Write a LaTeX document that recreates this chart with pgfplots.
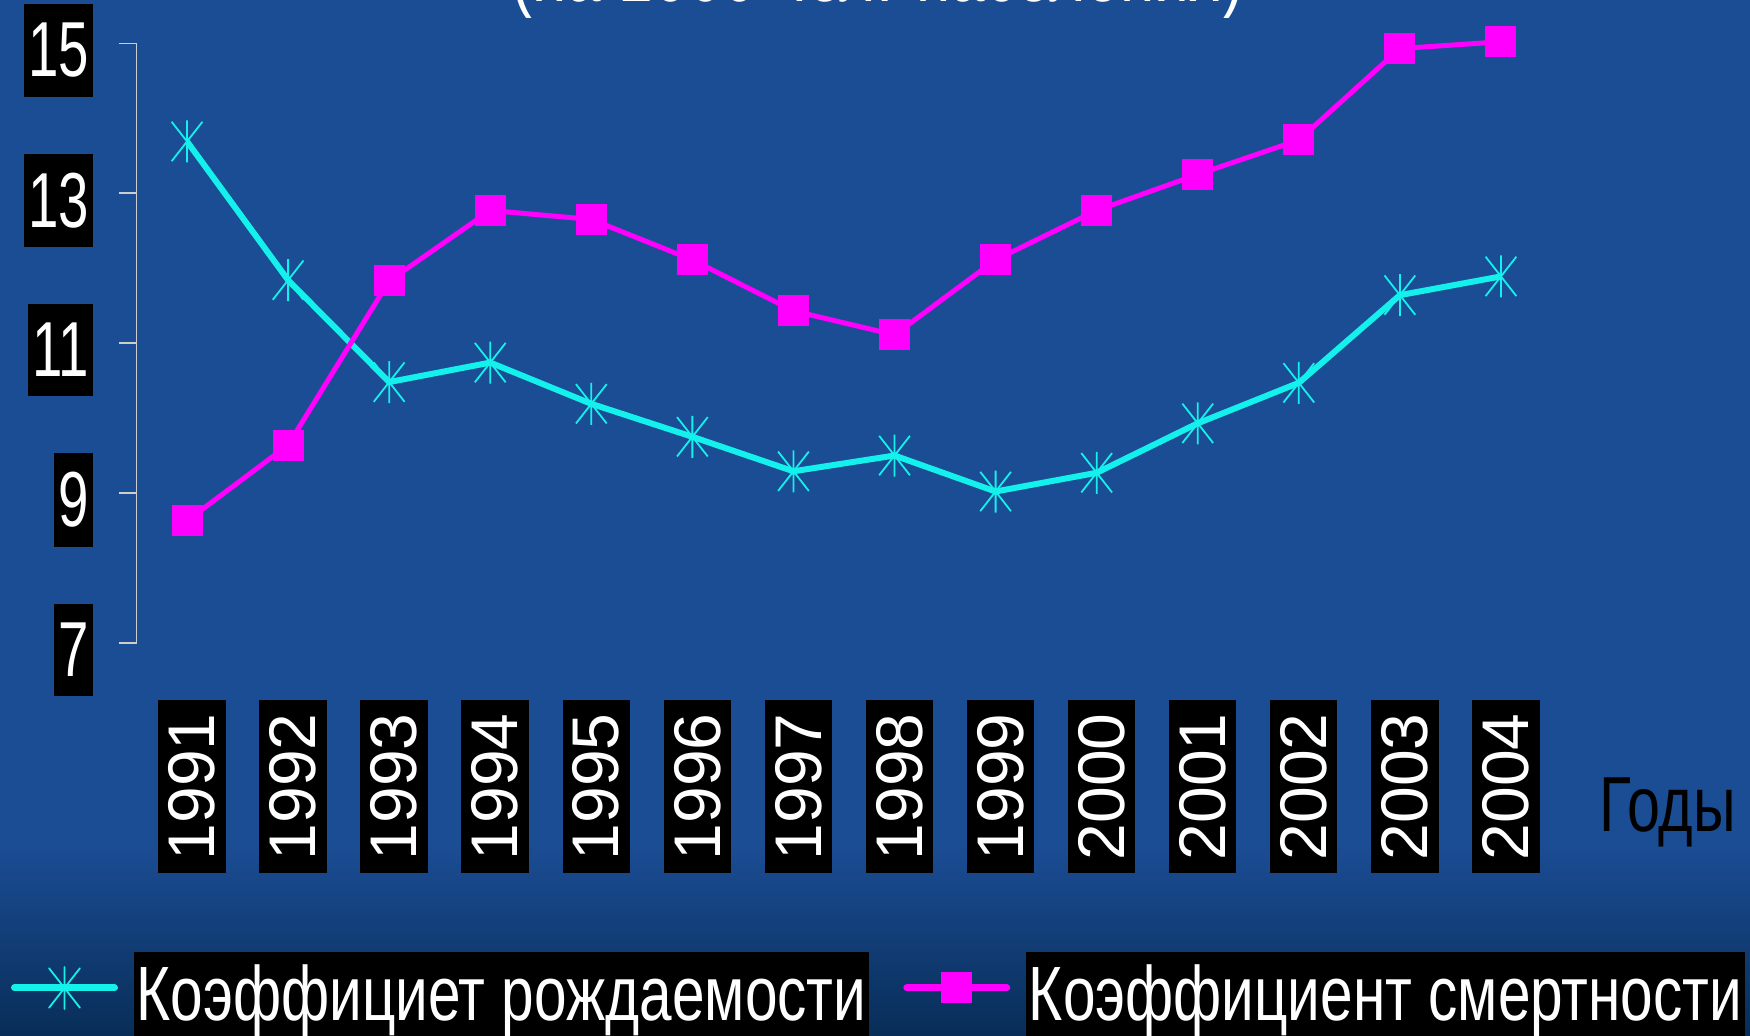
\documentclass[border=0pt]{standalone}
\usepackage{pgfplots}
\pgfplotsset{compat=1.18}
\usepackage{fontspec}
\setmainfont{Liberation Sans}
\newfontfamily\narrowfont[FakeStretch=0.76]{Liberation Sans}
\newfontfamily\tickfont[FakeStretch=0.7]{Liberation Sans}
\definecolor{bgblue}{RGB}{27,77,148}
\definecolor{bgdark}{RGB}{8,45,88}
\definecolor{cyanline}{RGB}{20,240,235}
\definecolor{magline}{RGB}{255,0,255}
\definecolor{axgray}{RGB}{205,205,205}
\pgfdeclareplotmark{ast6}{%
  \pgfpathmoveto{\pgfpoint{0pt}{-0.84\pgfplotmarksize}}%
  \pgfpathlineto{\pgfpoint{0pt}{0.84\pgfplotmarksize}}%
  \pgfpathmoveto{\pgfpointpolar{-128}{\pgfplotmarksize}}%
  \pgfpathlineto{\pgfpointpolar{52}{\pgfplotmarksize}}%
  \pgfpathmoveto{\pgfpointpolar{-52}{\pgfplotmarksize}}%
  \pgfpathlineto{\pgfpointpolar{128}{\pgfplotmarksize}}%
  \pgfusepathqstroke}
\newcommand\lgbox[1]{{\setlength{\fboxsep}{1.5pt}\colorbox{black}{\rule[-9pt]{0pt}{42pt}\narrowfont\fontsize{38.5}{40}\selectfont\textcolor{white}{#1}}}}
\begin{document}
\begin{tikzpicture}
\useasboundingbox (0,0) rectangle (875pt,517.5pt);
\fill[bgblue] (0,0) rectangle (875pt,517.5pt);
\shade[top color=bgblue, bottom color=bgdark] (0,0) rectangle (875pt,95pt);
\node[anchor=base, text=white, font=\narrowfont\fontsize{41}{43}\selectfont] at (439pt,516.5pt) {(на 1000 чел. населения)};
\node[anchor=base west, text=black, font=\narrowfont\fontsize{39}{41}\selectfont] at (796pt,102pt) {Годы};
\begin{axis}[
  at={(68.25pt,196.05pt)}, anchor=south west,
  scale only axis, width=707.5pt, height=299.8pt,
  xmin=1990.5, xmax=2004.5, ymin=7, ymax=15,
  clip=false,
  axis lines*=left,
  axis line style={-},
  x axis line style={draw=none},
  y axis line style={draw=axgray, line width=0.8pt},
  tick align=outside,
  major tick length=9pt,
  xtick={1991,...,2004},
  xticklabels={1991,1992,1993,1994,1995,1996,1997,1998,1999,2000,2001,2002,2003,2004},
  xtick style={draw=none},
  ytick={7,9,11,13,15},
  yticklabels={7,9,11,13,15},
  ytick style={draw=axgray, line width=0.8pt},
  xticklabel style={yshift=-19.5pt, xshift=2.5pt, rotate=90, anchor=east, fill=black, text=white, inner xsep=6.5pt, inner ysep=5.2pt, font=\fontsize{33}{35}\selectfont},
  yticklabel style={xshift=-12.7pt, yshift=-3.5pt, anchor=east, fill=black, text=white, inner xsep=2pt, inner ysep=9.5pt, font=\tickfont\fontsize{39}{41}\selectfont},
  legend columns=2,
  legend cell align=left,
  legend style={at={(-0.0887,-0.5155)}, anchor=north west, draw=none, fill=none, inner sep=0pt, outer sep=0pt,
    nodes={inner sep=0pt, outer sep=0pt},
    /tikz/every odd column/.append style={column sep=7.8pt},
    /tikz/every even column/.append style={column sep=17pt}},
]
\addplot[color=cyanline, line width=3pt, mark=ast6, mark size=12.5pt, mark options={line width=0.9pt, solid},
  legend image code/.code={\draw[mark repeat=2, mark phase=2, line cap=round, line width=3.5pt] plot coordinates {(0pt,0pt)(25pt,0pt)(50pt,0pt)};}]
coordinates {(1991,13.69)(1992,11.84)(1993,10.48)(1994,10.74)(1995,10.19)(1996,9.75)(1997,9.29)(1998,9.50)(1999,9.02)(2000,9.27)(2001,9.93)(2002,10.47)(2003,11.64)(2004,11.89)};
\addlegendentry{\lgbox{Коэффициет рождаемости}}
\addplot[color=magline, line width=2.5pt, mark=square*, mark size=7.5pt, mark options={fill=magline, line width=0.5pt, solid},
  legend image code/.code={\draw[mark repeat=2, mark phase=2, line cap=round, line width=3.5pt] plot coordinates {(0pt,0pt)(25pt,0pt)(50pt,0pt)};}]
coordinates {(1991,8.63)(1992,9.64)(1993,11.83)(1994,12.77)(1995,12.65)(1996,12.11)(1997,11.43)(1998,11.11)(1999,12.11)(2000,12.77)(2001,13.25)(2002,13.71)(2003,14.93)(2004,15.02)};
\addlegendentry{\lgbox{Коэффициент смертности}}
\end{axis}
\end{tikzpicture}
\end{document}
